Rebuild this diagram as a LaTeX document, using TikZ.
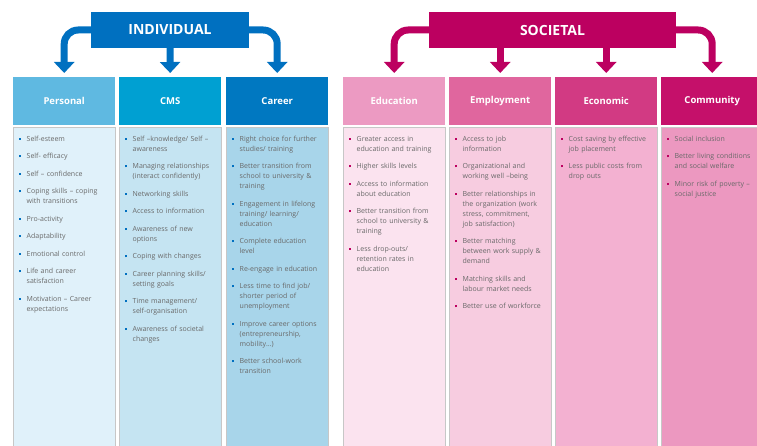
\documentclass[tikz,border=0pt]{standalone}
\usepackage{fontspec}
\setmainfont{Open Sans}
\usetikzlibrary{arrows.meta}
\definecolor{indiv}{RGB}{0,112,192}
\definecolor{soc}{RGB}{188,0,96}
\definecolor{hpers}{RGB}{95,185,225}
\definecolor{hcms}{RGB}{0,160,210}
\definecolor{hcar}{RGB}{0,120,193}
\definecolor{bpers}{RGB}{224,241,250}
\definecolor{bcms}{RGB}{197,228,242}
\definecolor{bcar}{RGB}{168,213,234}
\definecolor{hedu}{RGB}{236,154,194}
\definecolor{hemp}{RGB}{224,102,158}
\definecolor{heco}{RGB}{210,58,131}
\definecolor{hcom}{RGB}{197,16,106}
\definecolor{bedu}{RGB}{251,227,239}
\definecolor{bemp}{RGB}{247,204,224}
\definecolor{beco}{RGB}{243,177,209}
\definecolor{bcom}{RGB}{236,152,192}
\definecolor{txtgrey}{RGB}{105,105,105}
\colorlet{bul}{indiv}
\newcommand{\itm}[1]{\par\hangindent=7.5pt\hangafter=1\noindent\makebox[7.5pt][l]{\textcolor{bul}{\rule[1.4pt]{2.2pt}{2.2pt}}}{\def\\{\hfil\break}#1}\par\vspace{7.5pt}}
\begin{document}
\begin{tikzpicture}[x=1pt,y=-1pt,
  titulo/.style={fill=#1, text=white, font=\bfseries\fontsize{14}{16}\selectfont, minimum height=36pt, inner sep=0pt},
  cabeza/.style={fill=#1, text=white, font=\bfseries\fontsize{9.5}{11}\selectfont, minimum width=102pt, minimum height=48pt, inner sep=0pt, anchor=north west},
  cuerpo/.style={fill=#1, draw=black!22, line width=0.8pt, minimum width=102pt, minimum height=325pt, inner sep=0pt, anchor=north west},
  lista/.style={anchor=north west, text width=95pt, inner sep=0pt, text=txtgrey, font=\fontsize{7}{10}\selectfont, execute at begin node={\raggedright\colorlet{bul}{#1}}},
  flecha/.style={draw=#1, line width=7pt, rounded corners=14pt, -{Triangle[width=20pt,length=11pt]}, shorten >=4pt}
]
\useasboundingbox (0,0) rectangle (757,446);
% Cuerpos
\node[cuerpo=bpers] (PersonalC) at (13,127) {};
\node[cuerpo=bcms] (CMSC) at (119,127) {};
\node[cuerpo=bcar] (CareerC) at (226,127) {};
\node[cuerpo=bedu] (EducationC) at (343,127) {};
\node[cuerpo=bemp] (EmploymentC) at (449,127) {};
\node[cuerpo=beco] (EconomicC) at (555,127) {};
\node[cuerpo=bcom] (CommunityC) at (661,127) {};
% Cabezas
\node[cabeza=hpers] (Personal) at (13,77) {Personal};
\node[cabeza=hcms] (CMS) at (119,77) {CMS};
\node[cabeza=hcar] (Career) at (226,77) {Career};
\node[cabeza=hedu] (Education) at (343,77) {Education};
\node[cabeza=hemp] (Employment) at (449,77) {Employment};
\node[cabeza=heco] (Economic) at (555,77) {Economic};
\node[cabeza=hcom] (Community) at (661,77) {Community};
% Titulos y flechas
\node[titulo=indiv, minimum width=158pt] (Individual) at (170,30) {INDIVIDUAL};
\node[titulo=soc, minimum width=247pt] (Societal) at (552.5,30) {SOCIETAL};
\draw[flecha=indiv] (Individual.west) -| (Personal.north);
\draw[flecha=indiv] (Individual.south) -- (CMS.north);
\draw[flecha=indiv] (Individual.east) -| (Career.north);
\draw[flecha=soc] (Societal.west) -| (Education.north);
\draw[flecha=soc] (Societal.south -| Employment.north) -- (Employment.north);
\draw[flecha=soc] (Societal.south -| Economic.north) -- (Economic.north);
\draw[flecha=soc] (Societal.east) -| (Community.north);
% Listas
\node[lista=indiv] (PersonalL) at (19,131) {%
\itm{Self-esteem}
\itm{Self- efficacy}
\itm{Self – confidence}
\itm{Coping skills – coping\\with transitions}
\itm{Pro-activity}
\itm{Adaptability}
\itm{Emotional control}
\itm{Life and career\\satisfaction}
\itm{Motivation – Career\\expectations}};
\node[lista=indiv] (CMSL) at (125,131) {%
\itm{Self –knowledge/ Self –\\awareness}
\itm{Managing relationships\\(interact confidently)}
\itm{Networking skills}
\itm{Access to information}
\itm{Awareness of new\\options}
\itm{Coping with changes}
\itm{Career planning skills/\\setting goals}
\itm{Time management/\\self-organisation}
\itm{Awareness of societal\\changes}};
\node[lista=indiv] (CareerL) at (232,131) {%
\itm{Right choice for further\\studies/ training}
\itm{Better transition from\\school to university \&\\training}
\itm{Engagement in lifelong\\training/ learning/\\education}
\itm{Complete education\\level}
\itm{Re-engage in education}
\itm{Less time to find job/\\shorter period of\\unemployment}
\itm{Improve career options\\(entrepreneurship,\\mobility…)}
\itm{Better school-work\\transition}};
\node[lista=soc] (EducationL) at (349,131) {%
\itm{Greater access in\\education and training}
\itm{Higher skills levels}
\itm{Access to information\\about education}
\itm{Better transition from\\school to university \&\\training}
\itm{Less drop-outs/\\retention rates in\\education}};
\node[lista=soc] (EmploymentL) at (455,131) {%
\itm{Access to job\\information}
\itm{Organizational and\\working well –being}
\itm{Better relationships in\\the organization (work\\stress, commitment,\\job satisfaction)}
\itm{Better matching\\between work supply \&\\demand}
\itm{Matching skills and\\labour market needs}
\itm{Better use of workforce}};
\node[lista=soc] (EconomicL) at (561,131) {%
\itm{Cost saving by effective\\job placement}
\itm{Less public costs from\\drop outs}};
\node[lista=soc] (CommunityL) at (667,131) {%
\itm{Social inclusion}
\itm{Better living conditions\\and social welfare}
\itm{Minor risk of poverty –\\social justice}};
\end{tikzpicture}
\end{document}
